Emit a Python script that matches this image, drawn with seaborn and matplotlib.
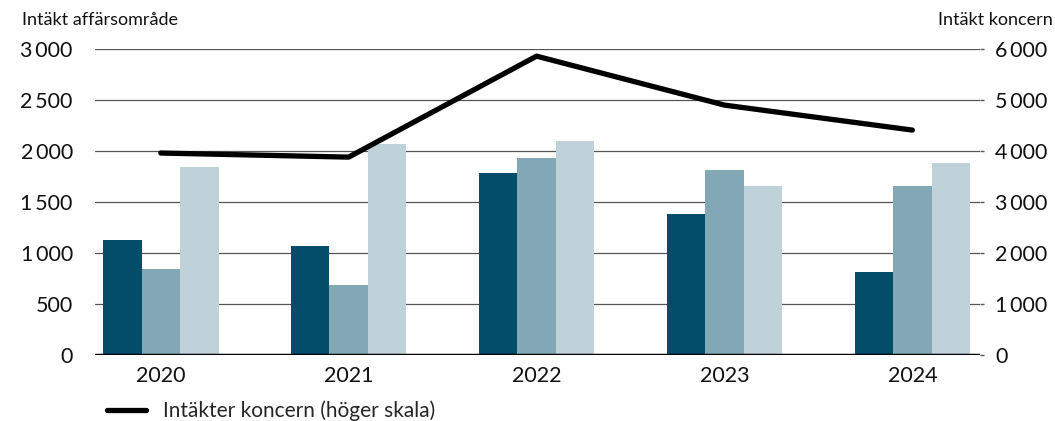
import numpy as np
import pandas as pd
import matplotlib
matplotlib.use("Agg")
import matplotlib.pyplot as plt
import seaborn as sns
from matplotlib.ticker import FuncFormatter
from matplotlib.lines import Line2D

years = ["2020", "2021", "2022", "2023", "2024"]
series_names = ["Område 1", "Område 2", "Område 3"]
omrade_1 = [1125, 1070, 1785, 1380, 815]
omrade_2 = [845, 685, 1930, 1815, 1655]
omrade_3 = [1845, 2070, 2100, 1655, 1880]
koncern = [3960, 3880, 5860, 4900, 4410]

colors = ["#034C6A", "#82A7B5", "#BFD2D9"]

sns.set_theme(style="white")
plt.rcParams["font.family"] = ["Lato", "DejaVu Sans"]

df = pd.DataFrame({
    "År": years * 3,
    "Serie": sum([[s] * len(years) for s in series_names], []),
    "Värde": omrade_1 + omrade_2 + omrade_3,
})

fig = plt.figure(figsize=(10.55, 4.21), dpi=100)
ax = fig.add_axes([95 / 1055, 1 - 355 / 421, (980 - 95) / 1055, (355 - 49) / 421])

sns.barplot(data=df, x="År", y="Värde", hue="Serie", order=years,
            hue_order=series_names, palette=colors, width=0.615, gap=0,
            saturation=1, linewidth=0, edgecolor="none", ax=ax,
            legend=False, zorder=3)

ax.set_ylim(0, 3000)
ax.set_yticks(np.arange(0, 3001, 500))
ax.set_xlim(-0.35, 4.36)
fmt = FuncFormatter(lambda v, p: f"{int(v):,}".replace(",", "\u2009"))
ax.yaxis.set_major_formatter(fmt)
for v in np.arange(500, 3001, 500):
    ax.axhline(v, color="#555555", lw=0.9, zorder=1)
ax.axhline(0, color="black", lw=2.5, zorder=4)
for s in ax.spines.values():
    s.set_visible(False)
ax.set_xlabel("")
ax.set_ylabel("")
ax.tick_params(axis="y", length=0, pad=16, labelsize=15.5, colors="#111111")
ax.tick_params(axis="x", length=0, pad=8, labelsize=15.5, colors="#111111")

ax2 = ax.twinx()
sns.lineplot(x=np.arange(len(years)), y=koncern, ax=ax2, color="black",
             lw=3.8, solid_capstyle="round", solid_joinstyle="round", zorder=5)
ax2.set_ylim(0, 6000)
ax2.set_yticks(np.arange(0, 6001, 1000))
ax2.yaxis.set_major_formatter(fmt)
for s in ax2.spines.values():
    s.set_visible(False)
ax2.tick_params(axis="y", length=3, width=1, color="#555555", pad=8,
                labelsize=15.5, colors="#111111")
ax2.tick_params(axis="y", color="#555555")
ax2.set_ylabel("")
ax2.grid(False)
ax.grid(False)

fig.text(22 / 1055, 1 - 20 / 421, "Intäkt affärsområde", fontsize=13,
         ha="left", va="center", color="#111111")
fig.text(1053 / 1055, 1 - 20 / 421, "Intäkt koncern", fontsize=13,
         ha="right", va="center", color="#111111")

h = Line2D([0], [0], color="black", lw=3.8, solid_capstyle="round")
fig.legend([h], ["Intäkter koncern (höger skala)"], loc="center left",
           bbox_to_anchor=(107 / 1055, 1 - 411 / 421), frameon=False,
           fontsize=15, handlelength=1.85, handletextpad=0.85, borderpad=0,
           borderaxespad=0)

fig.savefig("out.png", dpi=100)
